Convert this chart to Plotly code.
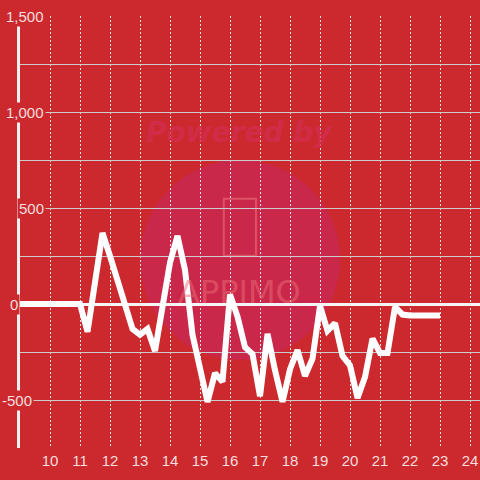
import plotly.graph_objects as go

# Data
hours = [9.0, 9.25, 9.5, 9.75, 10.0, 10.25, 10.5, 10.75, 11.0, 11.25, 11.5, 11.75,
         12.0, 12.25, 12.5, 12.75, 13.0, 13.25, 13.5, 13.75, 14.0, 14.25, 14.5, 14.75,
         15.0, 15.25, 15.5, 15.75, 16.0, 16.25, 16.5, 16.75, 17.0, 17.25, 17.5, 17.75,
         18.0, 18.25, 18.5, 18.75, 19.0, 19.25, 19.5, 19.75, 20.0, 20.25, 20.5, 20.75,
         21.0, 21.25, 21.5, 21.75, 22.0, 22.25, 22.5, 22.75, 23.0]
values = [0, 0, 0, 0, 0, 0, 0, 0, 0, -145, 120, 370,
          250, 125, 0, -130, -160, -130, -245, -10, 215, 355, 177, -160,
          -320, -510, -360, -405, 50, -65, -225, -260, -480, -155, -345, -510,
          -340, -240, -375, -285, -10, -140, -100, -270, -320, -490, -380, -180,
          -255, -255, -15, -55, -60, -60, -60, -60, -60]

x_ticks = [10, 11, 12, 13, 14, 15, 16, 17, 18, 19, 20, 21, 22, 23, 24]
y_grid = [-750, -500, -250, 0, 250, 500, 750, 1000, 1250, 1500]
y_label_vals = [1500, 1000, 500, 0, -500]
y_label_text = ["1,500", "1,000", "500", "0", "-500"]
y_label_x = [0.0565, 0.0565, 0.0565, 0.0, 0.0305]  # paper x of right edge

BG = "rgb(204,41,46)"
TXT = "rgb(245,222,222)"

fig = go.Figure()
fig.add_trace(go.Scatter(x=hours, y=values, mode="lines",
                         line=dict(color="white", width=6),
                         hoverinfo="skip", showlegend=False))

# watermark
fig.add_shape(type="circle", xref="paper", yref="paper",
              x0=0.261, x1=0.696, y0=0.204, y1=0.667,
              fillcolor="rgb(202,40,74)", line=dict(width=0), layer="below")
fig.add_shape(type="rect", xref="paper", yref="paper",
              x0=0.443, x1=0.513, y0=0.445, y1=0.577,
              line=dict(color="rgba(235,110,120,0.6)", width=2), layer="below")
fig.add_annotation(text="<b><i>Powered by</i></b>", xref="paper", yref="paper",
                   x=0.478, y=0.731, xanchor="center", yanchor="middle", showarrow=False,
                   font=dict(size=28, color="rgba(210,45,78,0.8)", family="DejaVu Sans"))
fig.add_annotation(text="APPIMO", xref="paper", yref="paper",
                   x=0.478, y=0.36, xanchor="center", yanchor="middle", showarrow=False,
                   font=dict(size=32, color="rgba(235,110,120,0.5)", family="DejaVu Sans"))

# zero line stub left of the axis
fig.add_shape(type="line", xref="paper", yref="y", x0=-0.007, x1=0.0, y0=0, y1=0,
              line=dict(color="rgb(245,245,245)", width=3))

for v, t, px in zip(y_label_vals, y_label_text, y_label_x):
    fig.add_annotation(text=t, x=px, xref="paper", y=v, yref="y",
                       xanchor="right", yanchor="middle", showarrow=False,
                       bgcolor=BG, borderpad=1,
                       font=dict(size=15, color=TXT, family="Liberation Sans"))

fig.update_layout(
    width=480, height=480,
    margin=dict(l=20, r=0, t=16, b=32),
    paper_bgcolor=BG, plot_bgcolor=BG,
    font=dict(family="Liberation Sans", color=TXT, size=15),
    xaxis=dict(range=[9, 24.333], tickvals=x_ticks, ticktext=[str(v) for v in x_ticks],
               showgrid=True, gridcolor="rgba(255,255,255,0.85)", gridwidth=1,
               griddash="2px,2px", zeroline=False, showline=False, ticks="",
               ticklabelstandoff=2, automargin=False,
               tickfont=dict(size=15, color=TXT)),
    yaxis=dict(range=[-750, 1500], tickvals=y_grid, showticklabels=False,
               showgrid=True, gridcolor="rgb(204,204,204)", gridwidth=1,
               zeroline=True, zerolinecolor="rgb(245,245,245)", zerolinewidth=3,
               showline=True, linecolor="rgb(240,240,240)", linewidth=3, ticks="",
               automargin=False),
)

fig.write_html("out.html", config={"displayModeBar": False},
               post_script="document.body.style.margin='0';document.body.style.overflow='hidden';")
